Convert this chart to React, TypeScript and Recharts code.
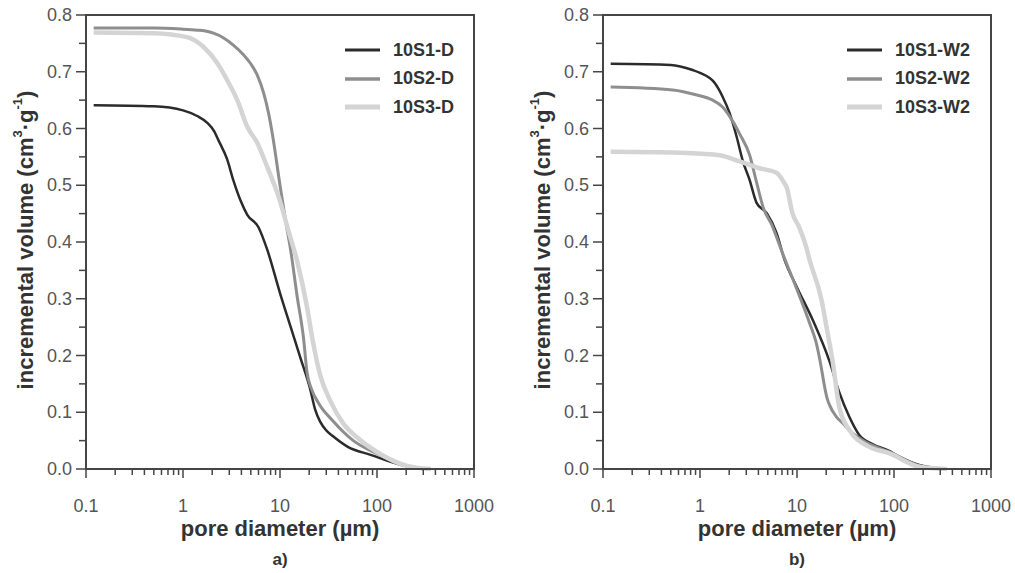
import { Legend, Line, LineChart, ReferenceArea, XAxis, YAxis } from "recharts";

const FONT = '"Liberation Sans", Arial, sans-serif';
const AXIS = "#454545";

const xMajorTicks = [0.1, 1, 10, 100, 1000];
const xMinorTicks = [
  0.2, 0.3, 0.4, 0.5, 0.6, 0.7, 0.8, 0.9,
  2, 3, 4, 5, 6, 7, 8, 9,
  20, 30, 40, 50, 60, 70, 80, 90,
  200, 300, 400, 500, 600, 700, 800, 900,
];
const yMajorTicks = [0, 0.1, 0.2, 0.3, 0.4, 0.5, 0.6, 0.7, 0.8];
const yMinorTicks = [0.05, 0.15, 0.25, 0.35, 0.45, 0.55, 0.65, 0.75];

// panel a) – dry samples
const s1DX = [0.12, 0.5, 1, 1.4, 1.78, 2.1, 2.31, 2.86, 3.3, 3.9, 4.6, 6.0, 7.4, 10, 12.9, 16.3, 20.6, 23, 26, 30, 35, 50, 86, 178, 330];
const s1DY = [0.641, 0.639, 0.632, 0.622, 0.61, 0.595, 0.58, 0.545, 0.509, 0.474, 0.448, 0.426, 0.386, 0.31, 0.25, 0.195, 0.139, 0.105, 0.083, 0.068, 0.058, 0.039, 0.025, 0.007, 0];
const s2DX = [0.12, 0.5, 1, 1.5, 2.06, 2.6, 3.3, 4.2, 4.95, 5.8, 6.8, 7.6, 8.35, 10, 11.4, 12.9, 15, 17.5, 19, 21, 25, 35, 57, 100, 190, 300];
const s2DY = [0.777, 0.777, 0.775, 0.773, 0.768, 0.76, 0.747, 0.73, 0.715, 0.695, 0.662, 0.628, 0.59, 0.5, 0.438, 0.385, 0.305, 0.23, 0.17, 0.142, 0.116, 0.085, 0.05, 0.027, 0.007, 0];
const s3DX = [0.12, 0.5, 1.1, 1.62, 2.26, 2.86, 3.63, 4.6, 5.85, 7.4, 10, 12.2, 15.1, 19, 21.7, 26, 33, 45, 63, 100, 200, 360];
const s3DY = [0.769, 0.768, 0.761, 0.744, 0.715, 0.685, 0.65, 0.603, 0.574, 0.532, 0.472, 0.42, 0.365, 0.285, 0.227, 0.165, 0.12, 0.08, 0.055, 0.03, 0.006, 0];

// panel b) – wetted samples
const s1WX = [0.12, 0.5, 0.84, 1.0, 1.42, 1.71, 2.02, 2.39, 2.75, 3.25, 3.83, 4.86, 6.15, 7.4, 10, 14.5, 21.6, 27.3, 34.6, 43.8, 60, 89, 105, 182, 345];
const s1WY = [0.714, 0.712, 0.703, 0.698, 0.68, 0.656, 0.627, 0.585, 0.544, 0.509, 0.469, 0.451, 0.416, 0.37, 0.32, 0.263, 0.19, 0.135, 0.092, 0.06, 0.044, 0.032, 0.025, 0.007, 0];
const s2WX = [0.12, 0.525, 0.93, 1.35, 1.71, 2.17, 2.57, 3.25, 3.83, 4.5, 5.5, 7.1, 9.9, 13.5, 15.8, 17, 20.4, 21.6, 25.5, 29.5, 37.5, 47, 89, 182, 316];
const s2WY = [0.673, 0.668, 0.659, 0.65, 0.638, 0.613, 0.59, 0.553, 0.505, 0.46, 0.43, 0.38, 0.318, 0.257, 0.222, 0.197, 0.125, 0.113, 0.092, 0.081, 0.063, 0.051, 0.03, 0.006, 0];
const s3WX = [0.12, 0.73, 1.6, 2.57, 4.1, 6.15, 7.4, 7.8, 9.0, 10.6, 12.5, 13.4, 17.9, 20.4, 23.2, 27.3, 34.6, 55.6, 89, 182, 350];
const s3WY = [0.559, 0.557, 0.553, 0.542, 0.53, 0.522, 0.504, 0.497, 0.45, 0.425, 0.39, 0.37, 0.298, 0.245, 0.192, 0.109, 0.069, 0.039, 0.028, 0.004, 0];

const toPoints = (xs: number[], ys: number[]) => xs.map((x, i) => ({ x, y: ys[i] }));

interface Series {
  name: string;
  data: { x: number; y: number }[];
  color: string;
  width: number;
}

const styles = [
  { color: "#2b2b2b", width: 2.5 },
  { color: "#8e8e8e", width: 3 },
  { color: "#d4d4d4", width: 4.5 },
];

const panelA: Series[] = [
  { name: "10S1-D", data: toPoints(s1DX, s1DY), ...styles[0] },
  { name: "10S2-D", data: toPoints(s2DX, s2DY), ...styles[1] },
  { name: "10S3-D", data: toPoints(s3DX, s3DY), ...styles[2] },
];
const panelB: Series[] = [
  { name: "10S1-W2", data: toPoints(s1WX, s1WY), ...styles[0] },
  { name: "10S2-W2", data: toPoints(s2WX, s2WY), ...styles[1] },
  { name: "10S3-W2", data: toPoints(s3WX, s3WY), ...styles[2] },
];

function XTick({ x, y, payload }: any) {
  const major = xMajorTicks.includes(payload.value);
  return (
    <g>
      <line x1={x} x2={x} y1={y} y2={y + (major ? 9 : 6)} stroke={AXIS} strokeWidth={1.5} />
      {major && (
        <text x={x} y={y + 43} textAnchor="middle" fontFamily={FONT} fontSize={18} fill="#555">
          {payload.value}
        </text>
      )}
    </g>
  );
}

function YTick({ x, y, payload }: any) {
  const major = yMajorTicks.some((t) => Math.abs(t - payload.value) < 1e-9);
  return (
    <g>
      <line x1={x - (major ? 10 : 7)} x2={x} y1={y} y2={y} stroke={AXIS} strokeWidth={1.5} />
      {major && (
        <text x={x - 14} y={y + 6} textAnchor="end" fontFamily={FONT} fontSize={18} fill="#555">
          {payload.value.toFixed(1)}
        </text>
      )}
    </g>
  );
}

function YTitle({ viewBox }: any) {
  const cx = 25;
  const cy = viewBox.y + viewBox.height / 2 - 2;
  return (
    <text
      x={cx}
      y={cy}
      transform={`rotate(-90, ${cx}, ${cy})`}
      textAnchor="middle"
      dominantBaseline="central"
      fontFamily={FONT}
      fontWeight={700}
      fontSize={22}
      fill="#333"
    >
      incremental volume (cm
      <tspan fontSize={13} dy={-8}>3</tspan>
      <tspan dy={8}>·g</tspan>
      <tspan fontSize={13} dy={-8}>-1</tspan>
      <tspan dy={8}>)</tspan>
    </text>
  );
}

function XTitle({ viewBox, tag }: any) {
  const cx = viewBox.x + viewBox.width / 2;
  return (
    <g fontFamily={FONT} fontWeight={700} fill="#333" textAnchor="middle">
      <text x={cx} y={viewBox.y + 67} fontSize={22}>
        pore diameter (µm)
      </text>
      <text x={cx} y={viewBox.y + 96} fontSize={17}>
        {tag}
      </text>
    </g>
  );
}

function PanelLegend({ series }: { series: Series[] }) {
  return (
    <div style={{ fontFamily: FONT, fontWeight: 700, fontSize: 18, color: "#333" }}>
      {series.map((s) => (
        <div key={s.name} style={{ display: "flex", alignItems: "center", height: 28.5 }}>
          <svg width={35} height={10}>
            <line x1={0} x2={35} y1={5} y2={5} stroke={s.color} strokeWidth={s.width + 0.5} />
          </svg>
          <span style={{ marginLeft: 13 }}>{s.name}</span>
        </div>
      ))}
    </div>
  );
}

function Panel({ series, tag, width, legendLeft }: { series: Series[]; tag: string; width: number; legendLeft: number }) {
  return (
    <LineChart width={width} height={573} margin={{ top: 15, right: width - 86 - 388, bottom: 0, left: 0 }}>
      <XAxis
        dataKey="x"
        type="number"
        scale="log"
        domain={[0.1, 1000]}
        allowDataOverflow
        ticks={[...xMajorTicks, ...xMinorTicks]}
        interval={0}
        tick={<XTick />}
        tickLine={false}
        tickSize={0}
        tickMargin={0}
        axisLine={{ stroke: AXIS, strokeWidth: 2 }}
        height={104}
        label={{ content: (p: any) => <XTitle {...p} tag={tag} /> }}
      />
      <YAxis
        type="number"
        domain={[0, 0.8]}
        ticks={[...yMajorTicks, ...yMinorTicks]}
        interval={0}
        tick={<YTick />}
        tickLine={false}
        tickSize={0}
        tickMargin={0}
        axisLine={{ stroke: AXIS, strokeWidth: 2 }}
        width={86}
        label={{ content: (p: any) => <YTitle {...p} /> }}
      />
      <ReferenceArea x1={0.1} x2={1000} y1={0} y2={0.8} fill="none" stroke={AXIS} strokeWidth={2} />
      <Legend
        layout="vertical"
        align="center"
        verticalAlign="middle"
        wrapperStyle={{ left: legendLeft, top: 36, width: 150 }}
        content={() => <PanelLegend series={series} />}
      />
      {series.map((s) => (
        <Line
          key={s.name}
          data={s.data}
          dataKey="y"
          name={s.name}
          type="monotone"
          stroke={s.color}
          strokeWidth={s.width}
          dot={false}
          activeDot={false}
          isAnimationActive={false}
        />
      ))}
    </LineChart>
  );
}

export default function App() {
  return (
    <div style={{ position: "absolute", left: 0, top: 0, width: 1015, height: 573, background: "#fff" }}>
      <div style={{ position: "absolute", left: 0, top: 0 }}>
        <Panel series={panelA} tag="a)" width={507} legendLeft={345} />
      </div>
      <div style={{ position: "absolute", left: 517, top: 0 }}>
        <Panel series={panelB} tag="b)" width={498} legendLeft={330} />
      </div>
    </div>
  );
}
